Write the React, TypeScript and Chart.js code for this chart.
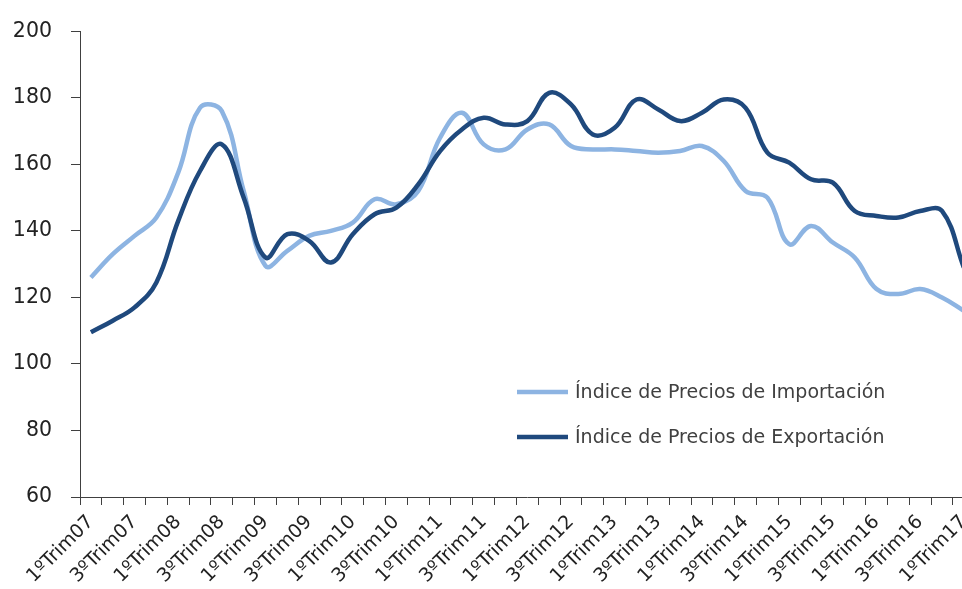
import { useEffect, useRef } from "react";
import { Chart, registerables } from "chart.js";

Chart.register(...registerables);

const categories = [
  "1ºTrim07", "2ºTrim07", "3ºTrim07", "4ºTrim07",
  "1ºTrim08", "2ºTrim08", "3ºTrim08", "4ºTrim08",
  "1ºTrim09", "2ºTrim09", "3ºTrim09", "4ºTrim09",
  "1ºTrim10", "2ºTrim10", "3ºTrim10", "4ºTrim10",
  "1ºTrim11", "2ºTrim11", "3ºTrim11", "4ºTrim11",
  "1ºTrim12", "2ºTrim12", "3ºTrim12", "4ºTrim12",
  "1ºTrim13", "2ºTrim13", "3ºTrim13", "4ºTrim13",
  "1ºTrim14", "2ºTrim14", "3ºTrim14", "4ºTrim14",
  "1ºTrim15", "2ºTrim15", "3ºTrim15", "4ºTrim15",
  "1ºTrim16", "2ºTrim16", "3ºTrim16", "4ºTrim16",
  "1ºTrim17",
];

const importIndex = [
  126, 133, 138.5, 144, 157.5, 177, 176, 152, 129.5, 134,
  138.5, 140, 142.5, 149.5, 148, 152, 168, 175.5, 166, 164.5,
  170.5, 172, 165.5, 164.5, 164.5, 164, 163.5, 164, 165.5, 161,
  152, 150, 136, 141.5, 136.5, 132, 122.5, 121, 122.5, 120,
  116,
];

const exportIndex = [
  109.5, 113, 117, 124.5, 143, 158, 166, 150, 132, 139,
  137, 130.5, 139, 145, 147, 154, 164, 170.5, 174, 172,
  173, 181.5, 178, 169, 171, 179.5, 176.5, 173, 175.5, 179.5,
  177, 163.5, 160.5, 155.5, 154.5, 146, 144.5, 144, 146, 146,
  129,
];

const seriesNames = [
  "Índice de Precios de Importación",
  "Índice de Precios de Exportación",
];

const yMin = 60;
const yMax = 200;
const yStep = 20;

const LIGHT = "#8DB4E2";
const DARK = "#1F497D";
const TEXT = "#404040";
const FONT = "'DejaVu Sans', sans-serif";

export default function App() {
  const ref = useRef<HTMLCanvasElement>(null);

  useEffect(() => {
    if (!ref.current) return;
    const legendPlugin = {
      id: "insideLegend",
      afterDraw(chart: any) {
        const ctx = chart.ctx;
        const ys = [392, 437];
        ctx.save();
        chart.data.datasets.forEach((ds: any, i: number) => {
          const y = ys[i];
          ctx.strokeStyle = ds.borderColor;
          ctx.lineWidth = 4.5;
          ctx.lineCap = "butt";
          ctx.beginPath();
          ctx.moveTo(517, y);
          ctx.lineTo(568, y);
          ctx.stroke();
          ctx.fillStyle = TEXT;
          ctx.font = `19px ${FONT}`;
          ctx.textBaseline = "middle";
          ctx.textAlign = "left";
          ctx.fillText(ds.label, 575, y + 1);
        });
        ctx.restore();
      },
    };

    const chart = new Chart(ref.current, {
      type: "line",
      data: {
        labels: categories,
        datasets: [
          {
            label: seriesNames[0],
            data: importIndex,
            borderColor: LIGHT,
            backgroundColor: LIGHT,
            borderWidth: 4.5,
            pointRadius: 0,
            tension: 0.4,
            fill: false,
            order: 1,
          },
          {
            label: seriesNames[1],
            data: exportIndex,
            borderColor: DARK,
            backgroundColor: DARK,
            borderWidth: 4.5,
            pointRadius: 0,
            tension: 0.4,
            fill: false,
            order: 0,
          },
        ],
      },
      options: {
        animation: false,
        responsive: false,
        devicePixelRatio: 1,
        layout: { padding: { top: 30, right: 6, bottom: 0, left: 0 } },
        plugins: {
          legend: { display: false },
          tooltip: { enabled: false },
        },
        scales: {
          x: {
            type: "category",
            offset: true,
            grid: {
              offset: true,
              drawOnChartArea: false,
              drawTicks: true,
              tickLength: 8,
              color: TEXT,
            },
            border: { display: true, color: TEXT, width: 1 },
            ticks: {
              autoSkip: false,
              minRotation: 45,
              maxRotation: 45,
              padding: 6,
              color: "#222",
              font: { family: FONT, size: 19 },
              callback: function (this: any, val: any, idx: number) {
                return idx % 2 === 0 ? this.getLabelForValue(val) : "";
              },
            },
            afterFit: (scale: any) => {
              scale.height = 92;
            },
          },
          y: {
            min: yMin,
            max: yMax,
            grid: {
              drawOnChartArea: false,
              drawTicks: true,
              tickLength: 9,
              color: TEXT,
            },
            border: { display: true, color: TEXT, width: 1 },
            ticks: {
              stepSize: yStep,
              padding: 19,
              color: "#222",
              font: { family: FONT, size: 20.5 },
            },
            afterFit: (scale: any) => {
              scale.width = 80;
            },
          },
        },
      },
      plugins: [legendPlugin],
    });
    return () => chart.destroy();
  }, []);

  return (
    <div
      style={{
        position: "fixed",
        left: 0,
        top: 0,
        width: 962,
        height: 589,
        overflow: "hidden",
        background: "#fff",
      }}
    >
      <canvas
        ref={ref}
        width={986}
        height={589}
        style={{ display: "block", width: 986, height: 589 }}
      />
    </div>
  );
}
